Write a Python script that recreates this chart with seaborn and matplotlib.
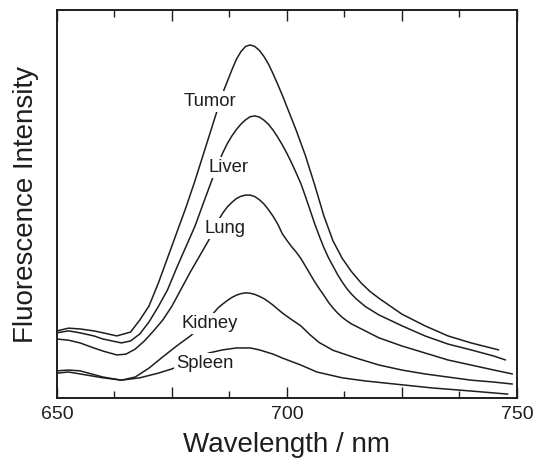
import numpy as np
import pandas as pd
import matplotlib
matplotlib.use("Agg")
import matplotlib.pyplot as plt
from matplotlib.ticker import MultipleLocator
import seaborn as sns

# ---- data (wavelength nm, intensity a.u. 0-100) ----
tumor_wl = [650, 652.5, 655, 658, 660, 663, 666, 668, 670, 672, 674, 676, 678, 680, 682, 684, 686,
            688, 689, 690, 691, 692, 693, 694, 695, 696, 697, 698, 699, 700, 702, 704, 706, 708,
            710, 712, 714, 716, 718, 720, 725, 730, 735, 740, 746]
tumor_i = [17.3, 18.0, 17.8, 17.3, 16.8, 16.0, 17.0, 20.1, 23.7, 29.5, 36.0, 42.5, 49.0, 56.0, 63.5,
           71.0, 78.5, 84.5, 87.3, 89.3, 90.6, 91.0, 90.6, 89.6, 88.0, 86.0, 83.5, 80.8, 78.0, 75.0,
           69.0, 62.5, 55.0, 47.0, 40.5, 36.0, 32.6, 29.8, 27.5, 25.7, 21.6, 18.6, 16.0, 14.2, 12.4]

liver_wl = [650, 652.5, 655, 658, 660, 664, 666, 668, 670, 672, 674, 676, 678, 680, 682, 684, 686,
            687, 688, 689, 690, 691, 692, 693, 694, 695, 696, 697, 698, 699, 700, 701, 702, 703,
            704, 705, 706, 707, 708, 709, 710, 711, 712, 713, 714, 715, 717, 720, 725, 730, 735,
            740, 745, 747.5]
liver_i = [16.8, 17.3, 16.8, 16.0, 15.2, 14.2, 14.7, 16.5, 19.6, 23.5, 27.8, 33.5, 38.9, 44.3, 50.8,
           57.2, 63.1, 65.5, 67.5, 69.2, 70.6, 71.7, 72.5, 72.7, 72.4, 71.6, 70.5, 69.0, 67.2, 65.2,
           63.0, 60.6, 58.0, 55.3, 52.0, 48.5, 45.0, 41.8, 38.8, 36.2, 34.0, 31.8, 29.9, 28.2, 26.8,
           25.6, 23.6, 21.4, 18.6, 16.0, 13.9, 12.4, 10.8, 9.8]

lung_wl = [650, 652.5, 655, 658, 660, 663, 665, 667, 669, 671, 673, 675, 677, 679, 681, 683, 685,
           686, 687, 688, 689, 690, 691, 692, 693, 694, 695, 696, 697, 698, 699, 700, 701, 702,
           703, 704, 705, 706, 707, 708, 709, 710, 711, 712, 713, 714, 715, 720, 725, 730, 735,
           740, 745, 749]
lung_i = [15.2, 14.9, 14.2, 12.9, 12.1, 11.1, 11.3, 12.6, 14.7, 17.3, 20.1, 23.7, 28.1, 32.5, 36.6,
          40.7, 45.6, 47.6, 49.2, 50.4, 51.4, 52.0, 52.3, 52.3, 51.9, 51.1, 50.0, 48.5, 46.8, 44.8,
          42.3, 40.6, 39.0, 37.6, 36.0, 34.0, 32.0, 30.0, 28.2, 26.5, 24.7, 23.2, 21.9, 20.8, 19.9,
          19.1, 18.5, 15.5, 13.4, 11.6, 9.8, 8.5, 7.2, 6.2]

kidney_wl = [650, 652.5, 655, 660, 664, 667, 670, 673, 676, 679, 682, 685, 686, 687, 688, 689, 690,
             691, 692, 693, 694, 695, 696, 697, 698, 699, 701, 703, 705, 707, 710, 715, 720, 725,
             730, 735, 740, 745, 749]
kidney_i = [7.0, 7.2, 7.0, 5.4, 4.6, 5.4, 7.7, 10.6, 13.4, 16.0, 19.1, 23.2, 24.2, 25.1, 25.9, 26.5,
            26.9, 27.1, 27.0, 26.7, 26.2, 25.6, 24.8, 23.9, 22.9, 21.9, 20.2, 18.6, 16.3, 14.3, 12.3,
            10.3, 8.5, 7.2, 6.2, 5.4, 4.6, 4.1, 3.6]

spleen_wl = [650, 652.5, 655, 660, 664, 668, 672, 675, 679, 683, 686, 689, 692, 694, 697, 699, 703,
             706.5, 712, 717, 725, 731.5, 740, 748]
spleen_i = [6.4, 6.7, 6.2, 5.2, 4.6, 5.2, 6.4, 7.5, 9.5, 11.6, 12.4, 12.9, 12.9, 12.4, 11.3, 10.3,
            8.5, 6.7, 5.2, 4.4, 3.4, 2.6, 1.8, 1.0]

tissues = ["Tumor", "Liver", "Lung", "Kidney", "Spleen"]
label_wl = [683.3, 687.2, 686.5, 683.3, 682.2]
label_i = [76.3, 59.5, 43.8, 19.3, 9.0]

x_ticks = [650, 675, 700, 725, 750]
x_tick_labels = ["650", "", "700", "", "750"]

frames = []
for name, wl, it in [("Tumor", tumor_wl, tumor_i), ("Liver", liver_wl, liver_i),
                     ("Lung", lung_wl, lung_i), ("Kidney", kidney_wl, kidney_i),
                     ("Spleen", spleen_wl, spleen_i)]:
    frames.append(pd.DataFrame({"wl": wl, "intensity": it, "tissue": name}))
df = pd.concat(frames, ignore_index=True)

sns.set_style("ticks")
plt.rcParams["font.family"] = ["Liberation Sans", "DejaVu Sans"]

fig = plt.figure(figsize=(5.49, 4.59), dpi=100)
ax = fig.add_axes([0.1038, 0.1329, 0.8379, 0.8453])

sns.lineplot(data=df, x="wl", y="intensity", hue="tissue", units="tissue", estimator=None,
             palette={t: "#1e1e1e" for t in tissues}, linewidth=1.1, legend=False, ax=ax)
for ln in ax.get_lines():
    ln.set_solid_joinstyle("round")

for name, lx, ly in zip(tissues, label_wl, label_i):
    ax.text(lx, ly, name, fontsize=13.3, ha="center", va="center", color="#1e1e1e", zorder=5,
            bbox=dict(facecolor="white", edgecolor="none", pad=1.5))

ax.set_xlim(650, 750)
ax.set_ylim(0, 100)
ax.set_xticks(x_ticks)
ax.set_xticklabels(x_tick_labels)
ax.xaxis.set_minor_locator(MultipleLocator(12.5))
ax.set_yticks([])
ax.tick_params(axis="x", which="major", direction="in", bottom=True, top=True, length=8,
               width=1.0, labelsize=14, pad=6, colors="#1e1e1e")
ax.tick_params(axis="x", which="minor", direction="in", bottom=True, top=True, length=5,
               width=1.0, colors="#1e1e1e")
for s in ax.spines.values():
    s.set_linewidth(1.4)
    s.set_color("#1e1e1e")

ax.set_xlabel("Wavelength / nm", fontsize=20, labelpad=6, color="#1e1e1e")
ax.set_ylabel("Fluorescence Intensity", fontsize=20, labelpad=13, color="#1e1e1e")

fig.savefig("out.png", dpi=100)
